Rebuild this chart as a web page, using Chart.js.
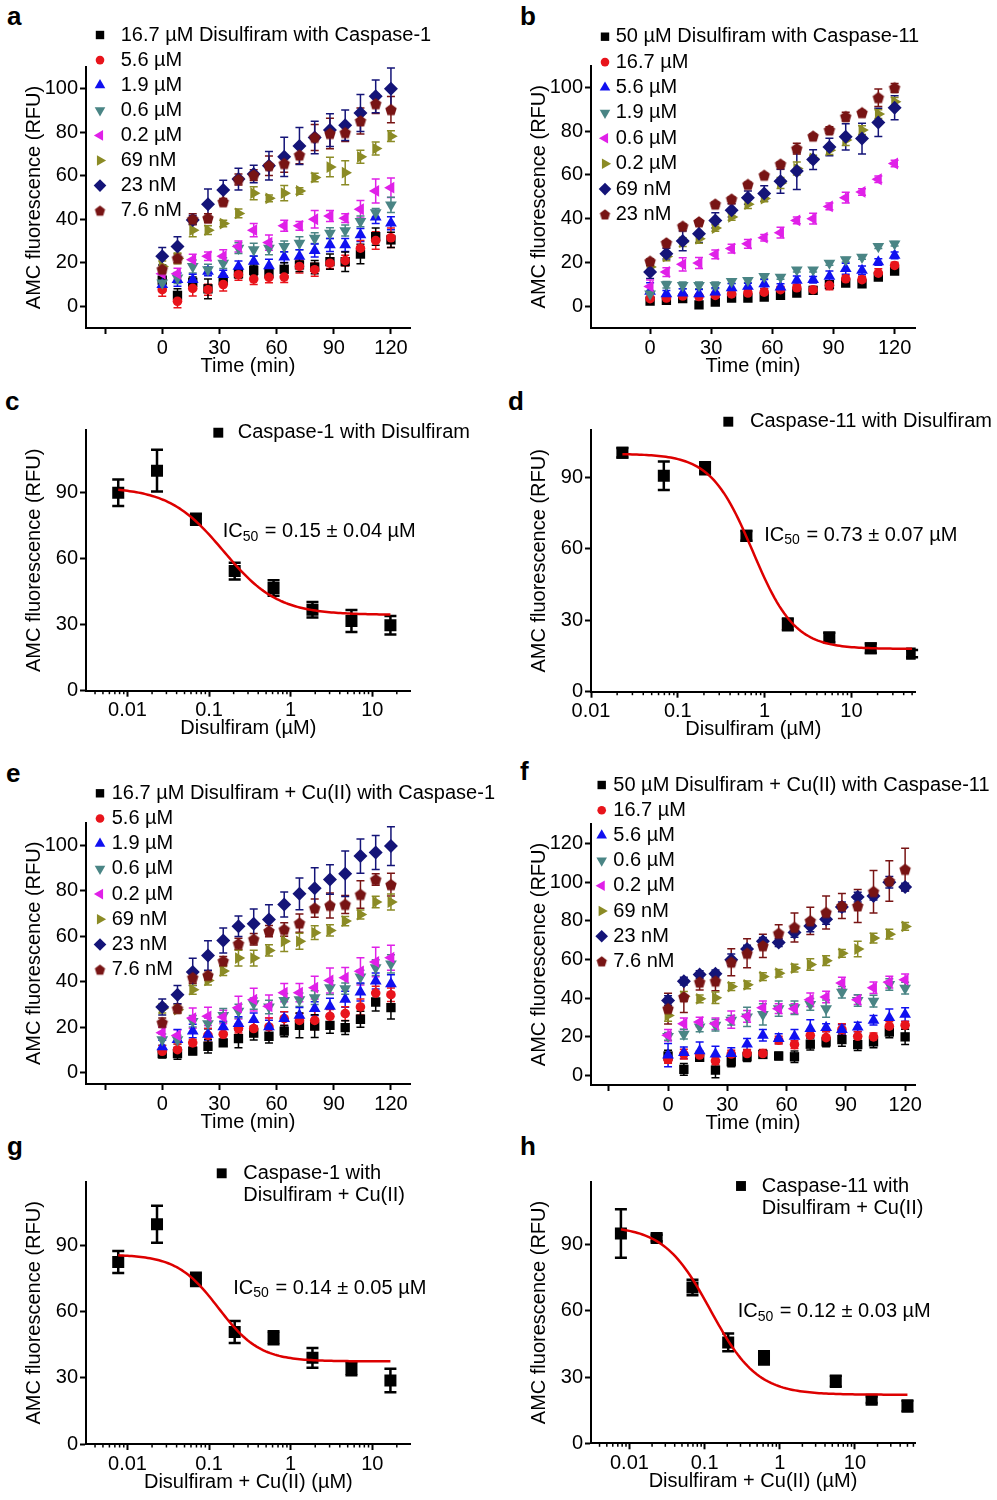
<!DOCTYPE html>
<html>
<head>
<meta charset="utf-8">
<script src="https://cdn.jsdelivr.net/npm/chart.js@4.4.1/dist/chart.umd.min.js"></script>
<style>
  body { margin: 0; background: #fff; }
  #fig { position: relative; width: 997px; height: 1500px; font-family: "Liberation Sans", Arial, sans-serif; }
  #fig canvas { position: absolute; }
  .lab { position: absolute; font-weight: bold; font-size: 26px; line-height: 1; }
</style>
</head>
<body>
<div id="fig">
  <div class="lab" style="left:7px;top:3px">a</div>
  <div class="lab" style="left:520px;top:3px">b</div>
  <div class="lab" style="left:5px;top:388px">c</div>
  <div class="lab" style="left:508px;top:388px">d</div>
  <div class="lab" style="left:6px;top:760px">e</div>
  <div class="lab" style="left:520px;top:758px">f</div>
  <div class="lab" style="left:7px;top:1133px">g</div>
  <div class="lab" style="left:520px;top:1133px">h</div>
  <canvas id="pa"></canvas>
  <canvas id="pb"></canvas>
  <canvas id="pc"></canvas>
  <canvas id="pd"></canvas>
  <canvas id="pe"></canvas>
  <canvas id="pf"></canvas>
  <canvas id="pg"></canvas>
  <canvas id="ph"></canvas>
</div>
<script>
// ---- data ----
const times = [0, 8, 16, 24, 32, 40, 48, 56, 64, 72, 80, 88, 96, 104, 112, 120];
const timeTicks = [-30, 0, 30, 60, 90, 120];
const timeTicksB = [0, 30, 60, 90, 120];
const rfuTicks = [0, 20, 40, 60, 80, 100];
const rfuTicksF = [0, 20, 40, 60, 80, 100, 120];
const doseTicksY = [0, 30, 60, 90];
const doseTicksX = [0.01, 0.1, 1, 10];

// panel a: disulfiram with caspase-1
const aLabels = ['16.7 µM Disulfiram with Caspase-1', '5.6 µM', '1.9 µM', '0.6 µM', '0.2 µM', '69 nM', '23 nM', '7.6 nM'];
const aMean = [
  [12, 5, 11, 8, 12, 15, 16.5, 15, 17, 19, 18, 20.5, 20.5, 24, 32, 30.5],
  [7.6, 2.3, 8.2, 7.6, 10, 14.5, 12.5, 13.3, 13.4, 18.3, 16.8, 19.8, 21, 26.7, 30.2, 31.5],
  [10, 12.2, 12.2, 16, 14.5, 18.3, 20.6, 18.6, 22.6, 23, 25.6, 28.2, 28.2, 32.8, 41, 38.2],
  [10.7, 13, 18.3, 16.8, 19.8, 26.7, 26, 26.7, 27.5, 29, 31.3, 33.6, 34.8, 39, 43, 46.6],
  [15, 15, 21.4, 23, 23, 27.5, 35, 29.3, 37, 37, 40, 41.5, 40.5, 44.6, 53, 54.5],
  [18.3, 22, 35, 35, 38, 42.7, 52, 49.6, 52, 53, 59.2, 64, 61.4, 68.7, 72.5, 78.2],
  [23, 27.5, 39.7, 46.9, 53.4, 58.5, 60.8, 64.6, 68.7, 73.7, 77.6, 81, 83.2, 88.9, 96.5, 100],
  [17, 22, 40, 40.5, 48, 58.3, 60.3, 64.6, 65.6, 69.5, 77.6, 79.4, 79.8, 85.2, 93.1, 90.4]
];
const aErr = [
  [3.5, 3, 2.5, 4.5, 2, 2, 2.5, 2, 3, 3, 3, 3.5, 4.5, 4.5, 4, 3.5],
  [3, 3, 3.5, 2.5, 3, 2.5, 2.5, 2.5, 2.5, 3, 3, 2.5, 2.5, 3.5, 4, 4.5],
  [3, 3, 2.5, 2, 2, 2.5, 2.5, 3, 2.5, 3, 3, 3, 3, 3, 3, 3],
  [3, 2.5, 3, 2.5, 2.5, 2.5, 3, 3, 2.5, 3, 2.5, 2.5, 2.5, 2.5, 2, 3.5],
  [2.5, 2.5, 2.5, 2, 3, 2.5, 3, 3.5, 2.5, 2, 4, 2.5, 2, 4, 5.5, 4.5],
  [2.5, 2.5, 3, 2, 1.5, 2, 3, 1.5, 3.5, 1.5, 2, 4.5, 5.5, 3, 3, 2.5],
  [4, 4.5, 2, 7, 4.5, 5, 4, 6.5, 9, 8.5, 7.5, 7.5, 7, 8.5, 7.5, 9.5],
  [2, 2, 2.5, 2, 1.5, 2.5, 2.5, 4.5, 4, 4, 6, 7, 4, 6, 4.5, 6]
];

// panel b: disulfiram with caspase-11
const bLabels = ['50 µM Disulfiram with Caspase-11', '16.7 µM', '5.6 µM', '1.9 µM', '0.6 µM', '0.2 µM', '69 nM', '23 nM'];
const bMean = [
  [2.3, 2.6, 3.4, 0.6, 1.8, 3.7, 3.7, 4.1, 4.9, 6, 7.2, 9.8, 10.5, 10.2, 13.3, 16],
  [3.4, 3.7, 4.6, 4.4, 4.9, 5.6, 6, 6.4, 7.5, 8.4, 7.5, 9.5, 12.5, 12.1, 15.1, 18.6],
  [6.7, 5.6, 6, 5.6, 6.4, 8.4, 9, 10.2, 8.7, 11.8, 12.1, 13.6, 17.1, 16.3, 20.2, 23.2],
  [5.6, 9.8, 9.5, 9.5, 9.5, 11.3, 11.8, 13.6, 13.3, 16.6, 16.6, 19.7, 21.2, 22.4, 27.3, 28.5],
  [9, 15.6, 19.1, 19.7, 23.7, 26.3, 28.5, 31.3, 33.6, 39.2, 40, 45.6, 49.6, 52.2, 58, 65.2],
  [17.9, 22.7, 29.3, 30.8, 35.7, 40.8, 46.6, 49.2, 56.3, 62.9, 67.5, 71.3, 75.9, 80.5, 87.8, 93.4],
  [15.6, 24, 29.8, 33.1, 39.2, 43.8, 49.6, 51.5, 57.1, 61.8, 67, 72.8, 77.4, 76.6, 84, 90.7],
  [20.5, 28.9, 36.5, 38.5, 46.6, 48.9, 55.6, 59.8, 64.9, 72, 77.7, 80.5, 86.6, 88.4, 95.3, 99.8]
];
const bErr = [
  [1, 1, 1, 1, 1, 1, 1, 1, 1, 1, 1, 1.5, 1, 1.5, 1, 1],
  [1, 1, 1, 1, 1.5, 1.5, 1.5, 1.5, 1.5, 1.5, 1.5, 2, 1.5, 1.5, 2, 1.5],
  [4, 1.5, 2, 2, 2, 2, 1.5, 2, 1.5, 2, 1.5, 2.5, 2.5, 2, 1.5, 1.5],
  [1.5, 1.5, 1.5, 1.5, 1.5, 1, 1, 1, 1, 1, 1, 1, 1, 1, 1, 1],
  [3, 2, 3, 2.5, 2, 2, 2, 1.5, 2.5, 1.5, 2.5, 1.5, 2.5, 1.5, 1.5, 1.5],
  [2, 2, 2, 2, 1.5, 1.5, 2, 1.5, 2.5, 3, 1.5, 2, 2.5, 2, 2, 2],
  [3, 2.5, 4.5, 4, 3.5, 3, 3, 3.5, 5.5, 8.5, 4.5, 4, 6, 7, 6.5, 5.5],
  [1, 1, 1, 1, 1, 1, 1, 1, 1, 2.5, 1, 1.5, 2, 1, 4, 2]
];

// panel e: disulfiram + Cu(II) with caspase-1
const eLabels = ['16.7 µM Disulfiram + Cu(II) with Caspase-1', '5.6 µM', '1.9 µM', '0.6 µM', '0.2 µM', '69 nM', '23 nM', '7.6 nM'];
const eMean = [
  [8.4, 8.4, 9.5, 11.6, 13.1, 15, 17.4, 16, 18.3, 20.8, 20.5, 20.8, 19.8, 23.5, 31.1, 28.6],
  [9.4, 10.1, 13.1, 16.4, 16.9, 19.4, 19.4, 20.1, 23.8, 23, 23, 24.8, 26, 28.9, 35, 34.3],
  [11.3, 14.5, 18.3, 16.9, 20.1, 21.6, 23.3, 20.1, 23.8, 25.2, 28.2, 29.2, 32.3, 35.5, 40.3, 39.1],
  [14.5, 14.5, 22.6, 21.6, 25.2, 27.1, 30.4, 28.9, 31.8, 32.1, 33, 37.4, 37, 42.1, 46.2, 47.9],
  [17.6, 16.4, 24, 24.8, 24.5, 28.6, 32.1, 29.2, 35.2, 35.2, 37.4, 40.6, 41.8, 44.6, 48.7, 50.6],
  [28.2, 27.7, 36.5, 40.6, 44.7, 50.4, 50.4, 53.8, 57.8, 57.8, 61.6, 62.6, 66.7, 69.6, 75.1, 75.1],
  [28.9, 34.3, 44.3, 51.6, 58.2, 64.4, 65.5, 67.4, 74, 78.7, 81.2, 85, 87.5, 95.3, 96.9, 99.7],
  [22, 28.2, 41.8, 42.8, 49.1, 56.7, 58.7, 62.3, 63, 65.8, 72.4, 73.6, 74, 78.4, 85, 82.7]
];
const eErr = [
  [2, 2.5, 1.5, 3, 1.5, 4, 3, 3, 2.5, 5.5, 5, 3.5, 3, 3.5, 4, 5],
  [2.5, 2.5, 1.5, 3, 3, 2, 3.5, 4, 3, 3, 4, 3, 3, 3.5, 3, 3],
  [3, 4.5, 3, 2.5, 2.5, 3, 3, 3, 3, 3.5, 3, 3.5, 3.5, 4, 3.5, 4],
  [2.5, 2, 2.5, 2.5, 3, 3, 2.5, 3, 3, 3, 3, 3, 2.5, 3, 3.5, 4],
  [2.5, 2.5, 4.5, 4, 3, 5, 5, 5, 4, 4, 5, 5.5, 4.5, 6, 6.5, 5.5],
  [2, 1.5, 2, 2, 2, 3.5, 3.5, 2.5, 4.5, 3.5, 3, 2.5, 2, 2, 2.5, 3.5],
  [3.5, 4, 6, 6.5, 5.5, 4.5, 6.5, 6.5, 5.5, 7, 9, 6.5, 10, 7.5, 7.5, 8.5],
  [2, 2, 2.5, 2, 2, 2.5, 2.5, 2.5, 3, 4, 4, 5.5, 4, 6, 2.5, 5]
];

// panel f: disulfiram + Cu(II) with caspase-11
const fLabels = ['50 µM Disulfiram + Cu(II) with Caspase-11', '16.7 µM', '5.6 µM', '0.6 µM', '0.2 µM', '69 nM', '23 nM', '7.6 nM'];
const fMean = [
  [10, 3.1, 9.3, 2.7, 7, 9.6, 10.8, 10, 9.6, 16.1, 17.3, 18.5, 15.9, 17.3, 22.4, 19.9],
  [8.2, 11, 10.5, 7.5, 11, 11.3, 11.3, 18.2, 15.9, 20.7, 19.5, 23.7, 20.2, 19.9, 25.4, 25.9],
  [10.5, 11.7, 12.7, 11, 11.3, 16.1, 20.7, 19, 20.2, 24.2, 24.7, 23.7, 25, 28.5, 29.8, 31.5],
  [20.2, 21.3, 25, 25.9, 28.5, 30.2, 31.5, 34.5, 35, 36.7, 34.5, 43, 38.7, 38.4, 47, 45.1],
  [20.7, 26.7, 27.6, 26.7, 28.8, 30.5, 35, 34.5, 34.5, 39.1, 40.5, 47.7, 39.1, 45.3, 48.2, 49.4],
  [31, 40.8, 39.6, 40.1, 45.9, 46.8, 51.1, 52.8, 55.5, 57.3, 59.3, 63.1, 65.3, 71, 73, 77],
  [38.7, 48.7, 52.1, 52.5, 59.8, 65.3, 69.3, 68.7, 73.9, 77.3, 80.7, 87.1, 92.2, 92.7, 99.9, 97.4],
  [34.5, 40.5, 48.2, 48.7, 58.5, 63.1, 67, 73.4, 76.5, 79.9, 84.2, 87.6, 87.6, 95, 100.5, 106.5]
];
const fErr = [
  [3, 3, 2, 4, 2.5, 2.5, 2, 2, 3, 3, 2.5, 3.5, 3, 3, 3, 4],
  [2, 2.5, 2, 2, 2, 2, 2, 2, 2, 3, 3, 3, 2.5, 2, 2.5, 2],
  [6, 3, 4.5, 4, 3, 3, 3, 2.5, 3.5, 4.5, 2, 2.5, 2.5, 2.5, 4.5, 3.5],
  [2, 2.5, 2.5, 3, 2.5, 5, 5.5, 4, 3.5, 3, 4.5, 3, 3, 3, 3, 3],
  [3, 3, 2.5, 3, 4.5, 3, 3.5, 2.5, 2.5, 3.5, 3, 3, 2.5, 3, 3, 3],
  [3, 2.5, 2, 3, 2, 2, 2, 2, 2, 3, 2.5, 2, 4, 2.5, 2.5, 2],
  [2.5, 2, 2, 2, 3, 2, 2, 2, 2.5, 3, 2.5, 2.5, 2.5, 2, 3, 2],
  [8, 8, 4, 5, 7, 7.5, 6, 4.5, 7.5, 7, 8.5, 6.5, 8.5, 11, 10.5, 11]
];

// dose-response panels (x in µM), fit = [top, bottom, IC50, hill]
const cDose = [0.0077, 0.023, 0.069, 0.206, 0.617, 1.85, 5.56, 16.7];
const cRfu = [90, 100, 77.9, 54.4, 46.7, 36.8, 31.7, 29.8];
const cErr = [6, 9.5, 2.5, 3.8, 3.5, 3.5, 5, 4.2];
const cFit = [92.5, 34.5, 0.15, 1.3];

const dDose = [0.023, 0.069, 0.206, 0.617, 1.85, 5.56, 16.7, 50];
const dRfu = [100.4, 90.8, 93.9, 65.5, 28.3, 22.8, 18.3, 16];
const dErr = [2, 6, 2.5, 2, 2.5, 2, 2, 1.5];
const dFit = [100, 18, 0.73, 1.8];

const gDose = [0.0077, 0.023, 0.069, 0.206, 0.617, 1.85, 5.56, 16.7];
const gRfu = [82.6, 99.7, 74.7, 50.8, 48.2, 39.1, 34.2, 28.8];
const gErr = [5, 8.4, 3, 5, 3, 4.5, 3, 5.3];
const gFit = [86, 37.5, 0.13, 1.7];

const hDose = [0.0077, 0.023, 0.069, 0.206, 0.617, 5.56, 16.7, 50];
const hRfu = [95, 93, 70.6, 45.7, 38.7, 28.1, 19.7, 16.9];
const hErr = [11, 1.5, 3.5, 4, 3, 2.5, 1.5, 2.5];
const hFit = [98.5, 22, 0.12, 1.4];

// ---- styling ----
const FONT = '"Liberation Sans", Arial, sans-serif';
Chart.defaults.font.family = FONT;
Chart.defaults.color = '#000';
const YW = 64, XH = 50;

const colors = ['#000000', '#e8141b', '#1010f0', '#4a8585', '#e020e8', '#8b8b25', '#141478', '#781414'];

function pentagon(r, color) {
  const c = document.createElement('canvas');
  const s = Math.ceil(2 * r + 2);
  c.width = c.height = s;
  const g = c.getContext('2d');
  g.fillStyle = color;
  g.beginPath();
  for (let k = 0; k < 5; k++) {
    const a = -Math.PI / 2 + k * 2 * Math.PI / 5;
    const px = s / 2 + r * Math.cos(a), py = s / 2 + r * 1.05 * Math.sin(a) + 0.5;
    if (k) g.lineTo(px, py); else g.moveTo(px, py);
  }
  g.closePath();
  g.fill();
  return c;
}

// marker for series i; big = data point, small = legend
function marker(i, big) {
  const k = big ? 1 : 0.9;
  const list = [
    { pointStyle: 'rect', rotation: 0, radius: 6.6 * k },
    { pointStyle: 'circle', rotation: 0, radius: 4.8 * k },
    { pointStyle: 'triangle', rotation: 0, radius: 6.8 * k },
    { pointStyle: 'triangle', rotation: 180, radius: 6.8 * k },
    { pointStyle: 'triangle', rotation: 270, radius: 6.8 * k },
    { pointStyle: 'triangle', rotation: 90, radius: 6.8 * k },
    { pointStyle: 'rectRot', rotation: 0, radius: 7 * k },
    { pointStyle: pentagon(6 * k, colors[7]), rotation: 0, radius: 6 * k }
  ];
  return list[i];
}

function drawMarker(ctx, m, color, x, y) {
  ctx.save();
  ctx.fillStyle = color;
  ctx.strokeStyle = color;
  Chart.helpers.drawPoint(ctx, { pointStyle: m.pointStyle, rotation: m.rotation, radius: m.radius, borderWidth: 0 }, x, y);
  ctx.restore();
}

// error bars, legend, notes and log minor ticks
function makeDeco(cfg) {
  return {
    id: 'deco',
    beforeDatasetsDraw(chart) {
      const ctx = chart.ctx, xs = chart.scales.x, ys = chart.scales.y;
      ctx.save();
      chart.data.datasets.slice().reverse().forEach(ds => {
        if (!ds.err) return;
        ctx.strokeStyle = ds.pointBorderColor;
        ctx.lineWidth = cfg.errW;
        ds.data.forEach((p, j) => {
          const e = ds.err[j];
          const px = xs.getPixelForValue(p.x);
          const y1 = ys.getPixelForValue(p.y + e), y2 = ys.getPixelForValue(p.y - e);
          ctx.beginPath();
          ctx.moveTo(px, y1); ctx.lineTo(px, y2);
          ctx.moveTo(px - cfg.cap, y1); ctx.lineTo(px + cfg.cap, y1);
          ctx.moveTo(px - cfg.cap, y2); ctx.lineTo(px + cfg.cap, y2);
          ctx.stroke();
        });
      });
      ctx.restore();
    },
    afterDraw(chart) {
      const ctx = chart.ctx, ox = cfg.box[0], oy = cfg.box[1];
      ctx.save();
      ctx.fillStyle = '#000';
      ctx.font = '20px ' + FONT;
      ctx.textBaseline = 'middle';
      ctx.textAlign = 'left';
      if (cfg.legend) {
        const L = cfg.legend;
        L.items.forEach((it, i) => {
          const y = L.y0 + i * L.dy - oy;
          drawMarker(ctx, it.m, it.color, L.mx - ox, y);
          ctx.fillStyle = '#000';
          it.label.split('\n').forEach((line, n) => ctx.fillText(line, L.tx - ox, y + n * 22));
        });
      }
      if (cfg.note) {
        const n = cfg.note;
        let x = n.x - ox; const y = n.y - oy;
        ctx.font = '20px ' + FONT;
        ctx.fillText('IC', x, y); x += ctx.measureText('IC').width;
        ctx.font = '14px ' + FONT;
        ctx.fillText('50', x, y + 5); x += ctx.measureText('50').width + 1;
        ctx.font = '20px ' + FONT;
        ctx.fillText(n.text, x, y);
      }
      if (cfg.minor) {
        const xs = chart.scales.x, b = chart.chartArea.bottom;
        ctx.strokeStyle = '#000';
        ctx.lineWidth = 1.5;
        for (let e = -3; e <= 1; e++) {
          for (let m = 2; m <= 9; m++) {
            const v = m * Math.pow(10, e);
            if (v < xs.min || v > xs.max) continue;
            const px = xs.getPixelForValue(v);
            ctx.beginPath(); ctx.moveTo(px, b); ctx.lineTo(px, b + 3.5); ctx.stroke();
          }
        }
      }
      ctx.restore();
    }
  };
}

function axis(type, min, max, ticks, title, isX, label) {
  return {
    type: type, min: min, max: max, position: isX ? 'bottom' : 'left',
    afterBuildTicks: s => { s.ticks = ticks.map(v => ({ value: v })); },
    afterFit: s => { if (isX) s.height = XH; else s.width = YW; },
    grid: { display: true, drawOnChartArea: false, drawTicks: true, tickLength: 6, tickWidth: 2, tickColor: '#000' },
    border: { display: true, color: '#000', width: 2 },
    ticks: { color: '#000', font: { size: 20 }, padding: 2, maxRotation: 0, autoSkip: false, callback: label },
    title: { display: true, text: title, color: '#000', font: { size: 20 }, padding: 0 }
  };
}

function makeChart(id, box, area, xAxis, yAxis, datasets, deco) {
  const cv = document.getElementById(id);
  cv.width = box[2]; cv.height = box[3];
  cv.style.left = box[0] + 'px'; cv.style.top = box[1] + 'px';
  const pad = {
    left: area[0] - box[0] - YW,
    top: area[1] - box[1],
    right: box[0] + box[2] - area[2],
    bottom: box[1] + box[3] - area[3] - XH
  };
  deco.box = box;
  new Chart(cv, {
    type: 'scatter',
    data: { datasets: datasets },
    options: {
      responsive: false, animation: false, events: [],
      layout: { padding: pad, autoPadding: false },
      plugins: { legend: { display: false }, tooltip: { enabled: false } },
      scales: { x: xAxis, y: yAxis }
    },
    plugins: [makeDeco(deco)]
  });
}

const timeLabel = v => (v < 0 ? '' : String(v));
const plainLabel = v => String(v);

function timePanel(id, box, area, xr, yr, xt, yt, labels, means, errs, leg) {
  const ds = means.map((row, i) => {
    const m = marker(i, true);
    return {
      data: row.map((v, j) => ({ x: times[j], y: v })),
      err: errs[i],
      pointStyle: m.pointStyle, rotation: m.rotation, pointRadius: m.radius,
      pointBackgroundColor: colors[i], pointBorderColor: colors[i], pointBorderWidth: 0,
      order: 10 - i
    };
  });
  const items = labels.map((l, i) => ({ label: l, color: colors[i], m: marker(i, false) }));
  makeChart(id, box, area,
    axis('linear', xr[0], xr[1], xt, 'Time (min)', true, timeLabel),
    axis('linear', yr[0], yr[1], yt, 'AMC fluorescence (RFU)', false, plainLabel),
    ds, { errW: 1.5, cap: 4, legend: { mx: leg[0], tx: leg[1], y0: leg[2], dy: leg[3], items: items } });
}

function fitCurve(dose, fit) {
  const lo = Math.log10(dose[0]), hi = Math.log10(dose[dose.length - 1]);
  const pts = [];
  for (let k = 0; k <= 120; k++) {
    const x = Math.pow(10, lo + (hi - lo) * k / 120);
    pts.push({ x: x, y: fit[1] + (fit[0] - fit[1]) / (1 + Math.pow(x / fit[2], fit[3])) });
  }
  return pts;
}

function dosePanel(id, box, area, xr, yr, xTitle, dose, rfu, err, fit, legLabel, leg, ic) {
  const ds = [
    {
      type: 'line', data: fitCurve(dose, fit), showLine: true, pointRadius: 0,
      borderColor: '#dd0000', borderWidth: 2.5, fill: false, tension: 0, order: 0
    },
    {
      data: dose.map((d, j) => ({ x: d, y: rfu[j] })), err: err,
      pointStyle: 'rect', pointRadius: 8.5, pointBackgroundColor: '#000', pointBorderColor: '#000',
      pointBorderWidth: 0, order: 1
    }
  ];
  makeChart(id, box, area,
    axis('logarithmic', xr[0], xr[1], doseTicksX, xTitle, true, plainLabel),
    axis('linear', yr[0], yr[1], doseTicksY, 'AMC fluorescence (RFU)', false, plainLabel),
    ds, {
      errW: 2.5, cap: 6, minor: true,
      legend: { mx: leg[0], tx: leg[1], y0: leg[2], dy: 25, items: [{ label: legLabel, color: '#000', m: { pointStyle: 'rect', rotation: 0, radius: 7 } }] },
      note: { x: ic[0], y: ic[1], text: ic[2] }
    });
}

// ---- panels ----
timePanel('pa', [0, 0, 510, 380], [86, 67, 410, 328], [-40, 130], [-10, 110], timeTicks, rfuTicks,
  aLabels, aMean, aErr, [100, 120.7, 35, 25.1]);
timePanel('pb', [497, 0, 500, 380], [591, 65.5, 915, 328], [-29, 130], [-10, 110], timeTicksB, rfuTicks,
  bLabels, bMean, bErr, [605, 615.7, 36.7, 25.4]);
timePanel('pe', [0, 755, 510, 385], [86, 822.7, 410, 1084], [-40, 130], [-5, 110], timeTicks, rfuTicks,
  eLabels, eMean, eErr, [100, 111.7, 793.3, 25.2]);
timePanel('pf', [497, 755, 500, 385], [591, 824, 915, 1085], [-39, 125], [-5, 130], timeTicks, rfuTicksF,
  fLabels, fMean, fErr, [601.7, 613.3, 785, 25.2]);

dosePanel('pc', [0, 380, 510, 375], [86, 430, 410.7, 690.7], [0.0031, 29.6], [0, 118.5], 'Disulfiram (µM)',
  cDose, cRfu, cErr, cFit, 'Caspase-1 with Disulfiram', [218.3, 237.7, 432.7], [222.7, 531.7, ' = 0.15 ± 0.04 µM']);
dosePanel('pd', [497, 380, 500, 375], [591, 430, 915.7, 691.7], [0.01, 55], [0, 110], 'Disulfiram (µM)',
  dDose, dRfu, dErr, dFit, 'Caspase-11 with Disulfiram', [728.3, 750, 421.7], [764.3, 535, ' = 0.73 ± 0.07 µM']);
dosePanel('pg', [0, 1140, 510, 360], [86, 1181.7, 410.7, 1444], [0.0031, 29.6], [0, 119], 'Disulfiram + Cu(II) (µM)',
  gDose, gRfu, gErr, gFit, 'Caspase-1 with\nDisulfiram + Cu(II)', [221.7, 243.3, 1173.3], [233.3, 1288.3, ' = 0.14 ± 0.05 µM']);
dosePanel('ph', [497, 1140, 500, 360], [591, 1181.7, 915, 1443.3], [0.00308, 63], [0, 118.5], 'Disulfiram + Cu(II) (µM)',
  hDose, hRfu, hErr, hFit, 'Caspase-11 with\nDisulfiram + Cu(II)', [741, 761.7, 1186], [737.7, 1311.7, ' = 0.12 ± 0.03 µM']);
</script>
</body>
</html>
